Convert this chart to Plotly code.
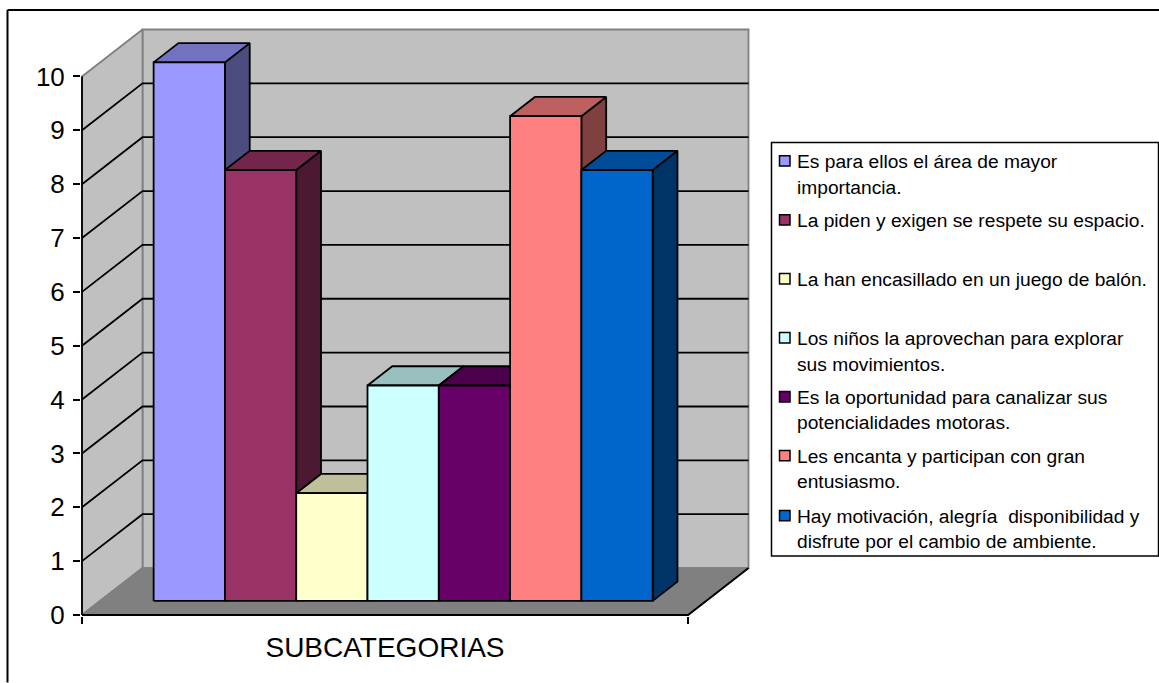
import plotly.graph_objects as go

# Datos
subcategorias = [
    "Es para ellos el área de mayor<br>importancia.",
    "La piden y exigen se respete su espacio.",
    "La han encasillado en un juego de balón.",
    "Los niños la aprovechan para explorar<br>sus movimientos.",
    "Es la oportunidad para canalizar sus<br>potencialidades motoras.",
    "Les encanta y participan con gran<br>entusiasmo.",
    "Hay motivación, alegría\u00a0 disponibilidad y<br>disfrute por el cambio de ambiente.",
]
valores = [10, 8, 2, 4, 4, 9, 8]
colores = ["#9999FF", "#993366", "#FFFFCC", "#CCFFFF", "#660066", "#FF8080", "#0066CC"]
y_ticks = list(range(0, 11))
categoria = "SUBCATEGORIAS"

W, H = 1159, 683
FONT = "Liberation Sans"

# Area de trazado en pixeles (plano frontal: x 82-688, valor 0 en y=615, 53.9 px por unidad)
PX_CAT = 606.0
PX_VAL = 53.9
X0, Y0 = 82.0, 615.5
PAD_L, PAD_B = 1.0, 1.0
PLOT_R, PLOT_T = 753.0, 26.0

x_range = [-PAD_L / PX_CAT, (PLOT_R - X0) / PX_CAT]
y_range = [-PAD_B / PX_VAL, (Y0 - PLOT_T) / PX_VAL]

# Proyeccion oblicua del efecto 3D
DX = 60.5 / PX_CAT
DY = 47.0 / PX_VAL
Y_MAX = y_ticks[-1]


def proy(x, v, d):
    return x + d * DX, v + d * DY


def oscurecer(color, f):
    r, g, b = [int(color[i:i + 2], 16) for i in (1, 3, 5)]
    return "#%02X%02X%02X" % (int(r * f), int(g * f), int(b * f))


def cara(fig, puntos, relleno, borde, ancho=1.8):
    xs = [p[0] for p in puntos] + [puntos[0][0]]
    ys = [p[1] for p in puntos] + [puntos[0][1]]
    fig.add_trace(go.Scatter(x=xs, y=ys, mode="lines", fill="toself", fillcolor=relleno,
                             line=dict(color=borde, width=ancho), hoverinfo="skip", showlegend=False))


def linea(fig, puntos, color, ancho=1.8):
    fig.add_trace(go.Scatter(x=[p[0] for p in puntos], y=[p[1] for p in puntos], mode="lines",
                             line=dict(color=color, width=ancho), hoverinfo="skip", showlegend=False))


fig = go.Figure()

# Paredes y suelo
GRIS = "#808080"
cara(fig, [proy(0, 0, 1), proy(1, 0, 1), proy(1, Y_MAX, 1), proy(0, Y_MAX, 1)], "#C0C0C0", GRIS)
cara(fig, [proy(0, 0, 0), proy(0, 0, 1), proy(0, Y_MAX, 1), proy(0, Y_MAX, 0)], "#C0C0C0", GRIS)
cara(fig, [proy(0, 0, 0), proy(1, 0, 0), proy(1, 0, 1), proy(0, 0, 1)], GRIS, GRIS)

# Lineas de division
for v in y_ticks[1:-1]:
    linea(fig, [proy(0, v, 0), proy(0, v, 1), proy(1, v, 1)], "black")

# Ejes
linea(fig, [proy(0, 0, 0), proy(0, Y_MAX, 0)], "black")
linea(fig, [proy(0, 0, 0), proy(1, 0, 0), proy(1, 0, 1)], "black")

# Barras, de izquierda a derecha para que cada una tape el lateral de la anterior
n = len(valores)
ancho_barra = 1.0 / (n + 1.5)
D1, D2 = 0.30, 0.71
for i, (val, col) in enumerate(zip(valores, colores)):
    xa = (0.75 + i) * ancho_barra
    xb = xa + ancho_barra
    cara(fig, [proy(xb, 0, D1), proy(xb, 0, D2), proy(xb, val, D2), proy(xb, val, D1)],
         oscurecer(col, 0.5), "black")
    cara(fig, [proy(xa, val, D1), proy(xb, val, D1), proy(xb, val, D2), proy(xa, val, D2)],
         oscurecer(col, 0.75), "black")
    cara(fig, [proy(xa, 0, D1), proy(xb, 0, D1), proy(xb, val, D1), proy(xa, val, D1)],
         col, "black")


def fx(px):
    return (px - X0 + PAD_L) / (PLOT_R - X0 + PAD_L)


def fy(py):
    return (Y0 + PAD_B - py) / (Y0 + PAD_B - PLOT_T)


shapes = [
    # Marco exterior: solo arriba e izquierda
    dict(type="line", xref="paper", yref="paper", x0=fx(7.5), x1=fx(W), y0=fy(10), y1=fy(10),
         line=dict(color="black", width=2)),
    dict(type="line", xref="paper", yref="paper", x0=fx(7.5), x1=fx(7.5), y0=fy(10), y1=fy(H),
         line=dict(color="black", width=2)),
    # Caja de la leyenda
    dict(type="rect", xref="paper", yref="paper", x0=fx(771.5), x1=fx(1158.5), y0=fy(142.5), y1=fy(556.5),
         fillcolor="white", line=dict(color="black", width=1.5)),
]

# Leyenda dibujada a mano para respetar su espaciado desigual
leyenda_y = [161, 220, 279, 338, 397, 456, 516]
annotations = []
for nombre, col, ly in zip(subcategorias, colores, leyenda_y):
    shapes.append(dict(type="rect", xref="paper", yref="paper", x0=fx(779.5), x1=fx(790), y0=fy(ly - 5.2), y1=fy(ly + 5.2),
                       fillcolor=col, line=dict(color="black", width=1.5)))
    for j, texto in enumerate(nombre.split("<br>")):
        annotations.append(dict(text=texto, xref="paper", yref="paper", x=fx(794.5), y=fy(ly + 1 + j * 25.3),
                                xanchor="left", yanchor="middle", showarrow=False,
                                font=dict(family=FONT, size=19.2, color="black")))

fig.update_layout(
    width=W, height=H,
    margin=dict(l=X0 - PAD_L, r=W - PLOT_R, t=PLOT_T, b=H - Y0 - PAD_B, pad=0),
    paper_bgcolor="white", plot_bgcolor="white",
    showlegend=False,
    shapes=shapes,
    annotations=annotations,
    xaxis=dict(range=x_range, showgrid=False, zeroline=False, showline=False,
               tickmode="array", tickvals=[0.5], ticktext=[categoria], ticks="",
               ticklabelstandoff=12,
               tickfont=dict(family=FONT, size=28, color="black"),
               minor=dict(tickmode="array", tickvals=[0, 1], ticks="outside", ticklen=7, tickwidth=1.8, tickcolor="black")),
    yaxis=dict(range=y_range, showgrid=False, zeroline=False, showline=False,
               tickmode="array", tickvals=y_ticks, ticks="outside", ticklen=7, tickwidth=1.8, tickcolor="black",
               ticklabelstandoff=3,
               tickfont=dict(family=FONT, size=26, color="black")),
)

fig.write_html("out.html", config=dict(displayModeBar=False), post_script="document.body.style.margin='0';")
